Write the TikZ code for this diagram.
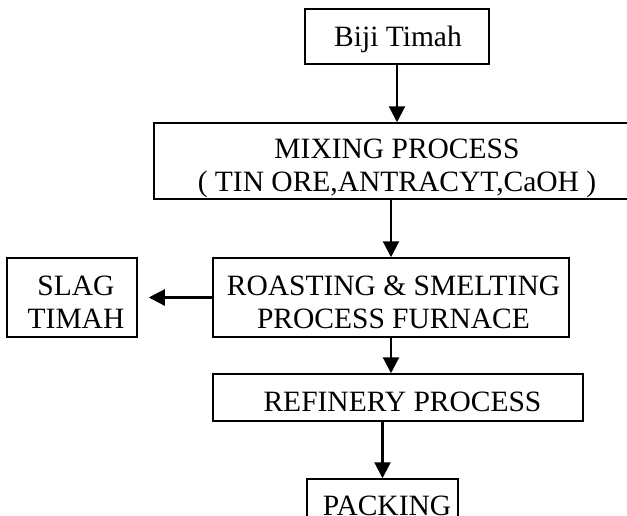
\documentclass[tikz,border=0pt]{standalone}
\usepackage{fontspec}
\setmainfont{Liberation Serif}
\usetikzlibrary{arrows.meta}
\newcommand{\shiftedtext}[3]{\raisebox{-#2}[\height][\depth]{\hspace*{#1}\begin{tabular}{@{}c@{}}#3\end{tabular}}}
\begin{document}
\begin{tikzpicture}[x=1pt,y=-1pt,
  box/.style={draw=black,line width=1.5pt,inner sep=0pt,
    font=\fontsize{29.5}{33}\selectfont},
  arr/.style={draw=black,line width=2.2pt,-{Triangle[length=16pt,width=16pt]}}]
\useasboundingbox (0,0) rectangle (627,515);
\node[box,minimum width=184pt,minimum height=55pt] (biji) at (397,36.5)
  {\shiftedtext{2pt}{3pt}{Biji Timah}};
\node[box,minimum width=486pt,minimum height=76pt] (mix) at (397,161)
  {\shiftedtext{0pt}{7.5pt}{MIXING PROCESS\\( TIN ORE,ANTRACYT,CaOH )}};
\node[box,minimum width=356pt,minimum height=79pt] (roast) at (391,297.5)
  {\shiftedtext{5pt}{7.5pt}{ROASTING \& SMELTING\\PROCESS FURNACE}};
\node[box,minimum width=130pt,minimum height=79pt] (slag) at (72,297.5)
  {\shiftedtext{8pt}{7.5pt}{SLAG\\TIMAH}};
\node[box,minimum width=370pt,minimum height=47pt] (refin) at (398,397.5)
  {\shiftedtext{9pt}{7pt}{REFINERY PROCESS}};
\node[box,minimum width=151pt,minimum height=47pt] (pack) at (382.5,502.5)
  {\shiftedtext{9pt}{6pt}{PACKING}};
\coordinate (slagtip) at ([xshift=11pt]slag.east);
\draw[arr] (biji.south) -- (biji.south |- mix.north);
\draw[arr] (roast.north |- mix.south) -- (roast.north);
\draw[arr] (roast.west) -- (slagtip);
\draw[arr] (roast.south) -- (roast.south |- refin.north);
\draw[arr] (pack.north |- refin.south) -- (pack.north);
\end{tikzpicture}
\end{document}
